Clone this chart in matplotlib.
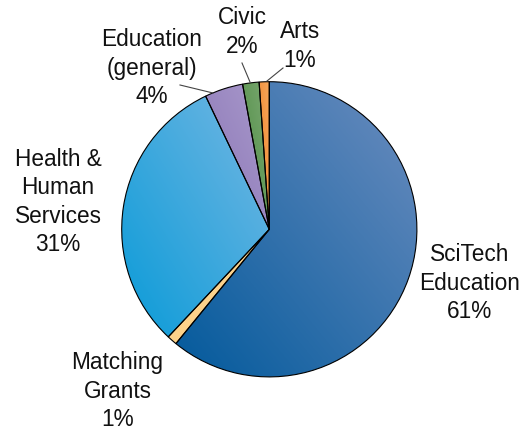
import numpy as np
import matplotlib
matplotlib.use("Agg")
import matplotlib.pyplot as plt
from matplotlib.colors import LinearSegmentedColormap

# Slice data (clockwise from 12 o'clock)
categories = ["SciTech Education", "Matching Grants", "Health & Human Services",
              "Education (general)", "Civic", "Arts"]
values = [60.9, 1.1, 30.9, 4.2, 1.8, 1.1]
pct_labels = ["61%", "1%", "31%", "4%", "2%", "1%"]
label_text = ["SciTech\nEducation", "Matching\nGrants", "Health &\nHuman\nServices",
              "Education\n(general)", "Civic", "Arts"]

# dark (lower-left) -> light (upper-right) gradient colours per slice
dark_colors = ["#035a9c", "#fdd28a", "#0a9bd8", "#8a76b6", "#4b8a40", "#ef8026"]
light_colors = ["#6c8dbf", "#fbd38f", "#74b7e3", "#aa9acc", "#7daa74", "#f7a85c"]

plt.rcParams['font.family'] = ['Liberation Sans', 'DejaVu Sans']

W, H = 529, 430
fig = plt.figure(figsize=(W / 100, H / 100), dpi=100)
ax = fig.add_axes([0, 0, 1, 1])

cx, cy, r = 269.3, H - 229.3, 147.6
wedges, _ = ax.pie(values, center=(cx, cy), radius=r, startangle=90,
                   counterclock=False,
                   wedgeprops=dict(facecolor='none', edgecolor='black', linewidth=0.8))

# gradient fill clipped to each wedge
for w, c0, c1 in zip(wedges, dark_colors, light_colors):
    bb = w.get_path().get_extents(w.get_transform() - ax.transData)
    x0, y0, x1, y1 = bb.x0, bb.y0, bb.x1, bb.y1
    xx, yy = np.meshgrid(np.linspace(0, 1, 100), np.linspace(0, 1, 100))
    grad = (xx + yy) / 2
    cmap = LinearSegmentedColormap.from_list("g", [c0, c1])
    im = ax.imshow(grad, cmap=cmap, extent=(x0, x1, y0, y1), origin='lower',
                   interpolation='bilinear', zorder=0.5)
    im.set_clip_path(w)
    w.set_zorder(1)

# labels
fs = 16.3
label_pos = [(470, 283), (117.5, 391), (58, 202), (152, 68), (242, 32), (300, 46)]
for txt, pct, (x, y) in zip(label_text, pct_labels, label_pos):
    ax.text(x, H - y, txt + "\n" + pct, ha='center', va='center',
            fontsize=fs, linespacing=1.28, color='#111111')

# leader lines
leaders = [((180, 85), (213, 93)), ((242, 63), (250, 82)), ((283, 68), (267, 81))]
for (xa, ya), (xb, yb) in leaders:
    ax.plot([xa, xb], [H - ya, H - yb], color='#444444', lw=0.8, zorder=2)

ax.set_xlim(0, W)
ax.set_ylim(0, H)
ax.set_aspect('auto')
ax.axis('off')

fig.savefig("out.png", dpi=100, facecolor='white')
